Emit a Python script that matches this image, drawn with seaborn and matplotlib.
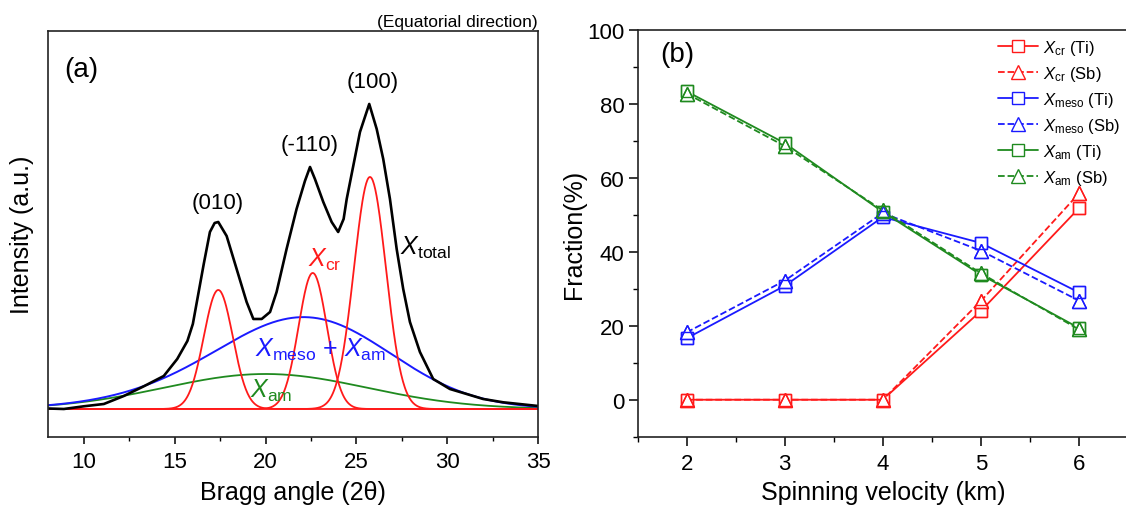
import numpy as np
import pandas as pd
import seaborn as sns
import matplotlib
matplotlib.use('Agg')
import matplotlib.pyplot as plt
from matplotlib.ticker import MultipleLocator

# (a) XRD profile along the equatorial direction
angle = [8.0, 8.9, 10.0, 11.1, 12.2, 13.3, 14.4, 15.14, 15.7, 16.0, 16.3, 16.6,
         16.94, 17.2, 17.4, 17.86, 18.41, 18.96, 19.33, 19.79, 20.25, 20.61,
         21.16, 21.71, 22.17, 22.45, 22.72, 23.18, 23.64, 24.0, 24.3, 24.47,
         24.83, 25.2, 25.71, 26.12, 26.48, 26.85, 27.22, 27.58, 27.95, 28.5,
         29.23, 30.15, 31.07, 31.98, 33.08, 35.0]
total = [0.5, 0, 2.7, 5, 13, 22.7, 33, 50, 68, 85, 115, 145,
         177, 186, 187, 173, 140, 107, 90, 90, 97, 117,
         160, 200, 228, 242, 230, 207, 187, 177, 190, 210,
         243, 277, 305, 280, 250, 210, 160, 120, 87, 57,
         30, 20, 15, 10, 6.7, 3]

# fitted gaussian components: crystalline peaks (010), (-110), (100)
cr_center = [17.4, 22.6, 25.75]
cr_height = [119, 136, 232]
cr_sigma = [0.8, 0.78, 0.88]
meso_center, meso_height, meso_sigma = 22.8, 60, 4.4
am_center, am_height, am_sigma = 20.0, 35, 5.6

# (b) fractions vs spinning velocity
velocity = [2, 3, 4, 5, 6]
cr_ti = [0, 0, 0, 24.0, 51.8]
cr_sb = [0, 0, 0, 26.7, 55.8]
meso_ti = [16.6, 30.8, 49.4, 42.4, 29.0]
meso_sb = [18.2, 32.2, 50.5, 40.3, 26.8]
am_ti = [83.4, 69.4, 50.8, 33.8, 19.4]
am_sb = [82.8, 68.6, 51.2, 34.2, 19.0]

RED, BLUE, GREEN = '#ff1a1a', '#1a1aff', '#1f8a1f'

sns.set_style('ticks')
plt.rcParams['font.family'] = ['Liberation Sans', 'DejaVu Sans']
plt.rcParams['mathtext.fontset'] = 'custom'
plt.rcParams['mathtext.rm'] = 'Liberation Sans'
plt.rcParams['mathtext.it'] = 'Liberation Sans:italic'
plt.rcParams['axes.linewidth'] = 1.2
plt.rcParams['axes.edgecolor'] = '#222222'
for key in ['text.color', 'axes.labelcolor', 'xtick.color', 'ytick.color']:
    plt.rcParams[key] = 'black'


def gauss(x, c, h, s):
    return h * np.exp(-(x - c) ** 2 / (2 * s ** 2))


fig = plt.figure(figsize=(11.26, 5.06), dpi=100)
ax1 = fig.add_axes([0.0422, 0.135, 0.4356, 0.8018])
ax2 = fig.add_axes([0.5662, 0.135, 0.4356, 0.8038])

# ---- panel (a)
grid = np.linspace(8, 35, 800)
am = gauss(grid, am_center, am_height, am_sigma)
meso = gauss(grid, meso_center, meso_height, meso_sigma)
sns.lineplot(x=grid, y=am, ax=ax1, color=GREEN, lw=1.3)
sns.lineplot(x=grid, y=meso + am, ax=ax1, color=BLUE, lw=1.4)
for c, h, s in zip(cr_center, cr_height, cr_sigma):
    sns.lineplot(x=grid, y=gauss(grid, c, h, s), ax=ax1, color=RED, lw=1.3)
sns.lineplot(x=angle, y=total, ax=ax1, color='black', lw=1.9)

ax1.set_xlim(8, 35)
ax1.set_ylim(-27.7, 378)
ax1.set_yticks([])
ax1.xaxis.set_major_locator(MultipleLocator(5))
ax1.xaxis.set_minor_locator(MultipleLocator(2.5))
ax1.tick_params(axis='x', which='major', direction='out', length=5, width=1.1,
                labelsize=16, pad=5)
ax1.tick_params(axis='x', which='minor', direction='out', length=3, width=1.0)
ax1.set_xlabel('Bragg angle (2θ)', fontsize=18)
ax1.xaxis.set_label_coords(0.5, -0.106)
ax1.set_ylabel('Intensity (a.u.)', fontsize=18, labelpad=10)
for sp in ax1.spines.values():
    sp.set_visible(True)

ax1.text(8.9, 340, '(a)', fontsize=20, va='center', ha='left')
ax1.text(17.36, 206, '(010)', fontsize=16, ha='center', va='center')
ax1.text(22.45, 264, '(-110)', fontsize=16, ha='center', va='center')
ax1.text(25.88, 327, '(100)', fontsize=16, ha='center', va='center')
ax1.text(27.4, 155, r'$X_{\mathrm{total}}$', fontsize=18, va='baseline')
ax1.text(22.34, 143, r'$X_{\mathrm{cr}}$', fontsize=18, va='baseline', color=RED)
ax1.text(19.42, 53, r'$X_{\mathrm{meso}}$ + $X_{\mathrm{am}}$', fontsize=18,
         va='baseline', color=BLUE)
ax1.text(19.15, 12, r'$X_{\mathrm{am}}$', fontsize=18, va='baseline', color=GREEN)
fig.text(0.4778, 0.9565, '(Equatorial direction)', fontsize=12.5,
         ha='right', va='center')

# ---- panel (b)
series = [
    (cr_ti, RED, 's', '-', r'$X_{\mathrm{cr}}$ (Ti)'),
    (cr_sb, RED, '^', '--', r'$X_{\mathrm{cr}}$ (Sb)'),
    (meso_ti, BLUE, 's', '-', r'$X_{\mathrm{meso}}$ (Ti)'),
    (meso_sb, BLUE, '^', '--', r'$X_{\mathrm{meso}}$ (Sb)'),
    (am_ti, GREEN, 's', '-', r'$X_{\mathrm{am}}$ (Ti)'),
    (am_sb, GREEN, '^', '--', r'$X_{\mathrm{am}}$ (Sb)'),
]
for vals, col, mk, ls, lab in series:
    df = pd.DataFrame({'v': velocity, 'f': vals})
    kw = dict(dashes=(3.5, 2.5)) if ls == '--' else {}
    sns.lineplot(data=df, x='v', y='f', ax=ax2, color=col, lw=1.3, ls=ls,
                 marker=mk, ms=8.5 if mk == 's' else 10, mfc='white',
                 mec=col, mew=1.0, label=lab, **kw)
# outlines again on top so overlapping symbols both stay visible
for vals, col, mk, ls, lab in series:
    df = pd.DataFrame({'v': velocity, 'f': vals})
    sns.lineplot(data=df, x='v', y='f', ax=ax2, color=col, ls='',
                 marker=mk, ms=8.5 if mk == 's' else 10, mfc='none',
                 mec=col, mew=1.0, legend=False)

ax2.set_xlim(1.5, 6.5)
ax2.set_ylim(-10, 100)
ax2.xaxis.set_major_locator(MultipleLocator(1))
ax2.xaxis.set_minor_locator(MultipleLocator(0.5))
ax2.yaxis.set_major_locator(MultipleLocator(20))
ax2.yaxis.set_minor_locator(MultipleLocator(10))
ax2.tick_params(which='major', direction='out', length=6.5, width=1.1,
                labelsize=16)
ax2.tick_params(which='minor', direction='out', length=3.3, width=1.0)
ax2.tick_params(axis='x', pad=5)
ax2.tick_params(axis='y', pad=3)
ax2.set_xlabel('Spinning velocity (km)', fontsize=18)
ax2.xaxis.set_label_coords(0.5, -0.106)
ax2.set_ylabel('Fraction(%)', fontsize=18)
ax2.yaxis.set_label_coords(-0.105, 0.5)
ax2.text(1.73, 93.5, '(b)', fontsize=20, va='center', ha='left')

h, l = ax2.get_legend_handles_labels()
ax2.legend(h[:6], l[:6], loc='upper left', bbox_to_anchor=(0.735, 0.98),
           frameon=False, fontsize=12, handlelength=2.4, handletextpad=0.3,
           labelspacing=0.42, borderpad=0, borderaxespad=0, numpoints=1)

fig.savefig('out.png', dpi=100)
